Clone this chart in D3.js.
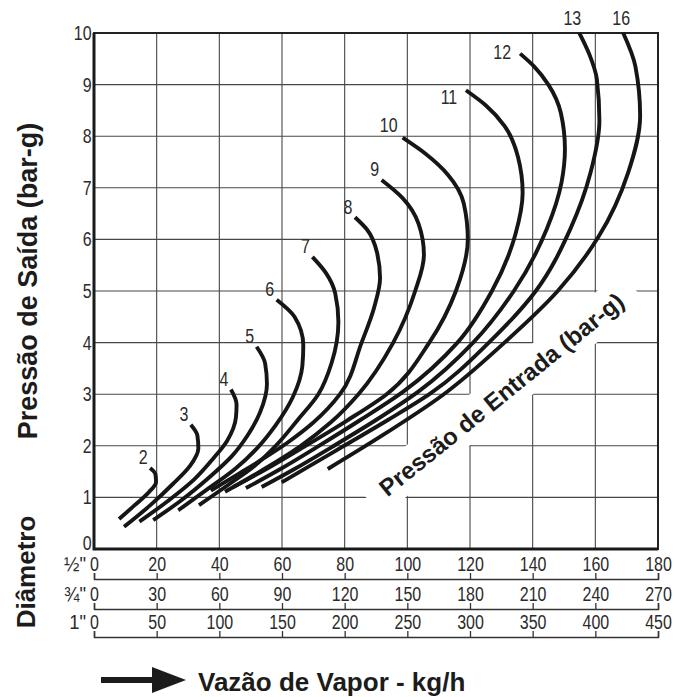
<!DOCTYPE html>
<html>
<head>
<meta charset="utf-8">
<script src="https://cdn.jsdelivr.net/npm/d3@7"></script>
<style>
  body { margin: 0; background: #fff; }
  svg { display: block; }
  .num, .tick text {
    font-family: "Liberation Sans", Arial, sans-serif;
    font-size: 20.5px;
    fill: #2b2b2b;
  }
  .title {
    font-family: "Liberation Sans", Arial, sans-serif;
    font-weight: bold;
    fill: #1c1c1c;
  }
</style>
</head>
<body>
<svg id="chart" width="674" height="697"></svg>
<script>
// Ticks
const yTicks = [0, 1, 2, 3, 4, 5, 6, 7, 8, 9, 10];
const halfInchTicks = [0, 20, 40, 60, 80, 100, 120, 140, 160, 180];
const threeQuarterTicks = [0, 30, 60, 90, 120, 150, 180, 210, 240, 270];
const oneInchTicks = [0, 50, 100, 150, 200, 250, 300, 350, 400, 450];
const pipeSizes = ['½"', '¾"', '1"'];

// Inlet pressure of each curve (bar-g)
const inletPressures = [2, 3, 4, 5, 6, 7, 8, 9, 10, 11, 12, 13, 16];

// [flow on the ½" scale (kg/h), outlet pressure (bar-g)]
const curve2 = [[8.0, 0.58], [13, 0.85], [17.5, 1.1], [19.8, 1.3], [19.6, 1.45], [17.9, 1.57]];
const curve3 = [[9.6, 0.43], [18, 0.85], [25, 1.25], [30.5, 1.6], [33.3, 1.95], [33, 2.2], [30.9, 2.41]];
const curve4 = [[14.5, 0.53], [24, 0.95], [32, 1.35], [38, 1.75], [42.5, 2.1], [45.3, 2.55], [45.5, 2.8], [43.7, 3.09]];
const curve5 = [[18.9, 0.56], [28, 0.95], [37, 1.4], [44, 1.8], [49, 2.2], [53, 2.65], [55.2, 3.2], [54.6, 3.6], [51.9, 3.92]];
const curve6 = [[26.9, 0.75], [36, 1.15], [45, 1.55], [52, 1.95], [58, 2.4], [63.5, 2.95], [66.5, 3.55], [66.8, 3.95], [64, 4.5], [58.3, 4.83]];
const curve7 = [[33.5, 0.85], [43, 1.25], [51, 1.6], [58, 2.0], [65, 2.5], [71.6, 3.0], [75.8, 3.6], [78, 4.4], [77, 4.95], [74, 5.35], [69.7, 5.66]];
const curve8 = [[37.3, 1.13], [46, 1.45], [54, 1.75], [61.5, 2.05], [70, 2.45], [78.5, 3.0], [85.4, 4.0], [89.5, 4.7], [91.3, 5.25], [90.3, 5.75], [87, 6.2], [83.3, 6.43]];
const curve9 = [[41.8, 1.11], [51, 1.43], [59, 1.72], [66, 2.0], [75.5, 2.45], [84.4, 3.0], [95.5, 4.0], [102.5, 5.0], [105.3, 5.7], [103.6, 6.3], [98.5, 6.8], [91.8, 7.15]];
const curve10 = [[44.5, 1.2], [55, 1.55], [67, 1.98], [80.5, 2.48], [93.4, 3.0], [107, 4.0], [115.5, 5.0], [119.3, 6.0], [118, 6.7], [113, 7.25], [106, 7.65], [98.5, 7.97]];
const curve11 = [[48.5, 1.18], [59.5, 1.55], [71, 1.97], [85, 2.5], [98.7, 3.05], [116, 4.0], [127, 5.0], [134.5, 6.1], [136.8, 6.9], [135.3, 7.6], [131, 8.2], [125, 8.6], [118.7, 8.89]];
const curve12 = [[53.5, 1.2], [64, 1.55], [76, 1.98], [90, 2.5], [103.5, 3.05], [121, 4.0], [134, 5.0], [144.5, 6.2], [149.2, 7.1], [150.3, 7.75], [149, 8.45], [145, 9.0], [140.5, 9.35], [136, 9.6]];
const curve13 = [[59.9, 1.29], [68.6, 1.6], [79.8, 2.0], [93.8, 2.5], [107.5, 3.02], [126, 4.0], [141, 5.0], [152, 6.2], [158.5, 7.3], [161.3, 8.3], [160.5, 9.1], [158, 9.6], [154.9, 10]];
const curve16 = [[74.6, 1.55], [92, 2.2], [111, 2.97], [131, 4.0], [148, 5.0], [161, 6.05], [170.5, 7.3], [174.3, 8.4], [172.8, 9.35], [168.9, 10]];

const curveSeries = [curve2, curve3, curve4, curve5, curve6, curve7, curve8,
    curve9, curve10, curve11, curve12, curve13, curve16]
    .map((points, i) => ({inlet: inletPressures[i], points: points}));

// the numbers in the original are set in a condensed face
const squeeze = "scale(0.78,1)";

let svg = d3.select("#chart");
let plot = {left: 94, right: 658, top: 33, bottom: 549};

let xScale = d3.scaleLinear().domain([0, 180]).range([plot.left, plot.right]);
let yScale = d3.scaleLinear().domain([0, 10]).range([plot.bottom, plot.top]);

// grid
let grid = svg.append("g").attr("stroke", "#474747").attr("stroke-width", 1.1);
grid.selectAll("line.v")
    .data(halfInchTicks.slice(1, -1))
    .join("line").attr("class", "v")
    .attr("x1", (d) => xScale(d)).attr("x2", (d) => xScale(d))
    .attr("y1", plot.top).attr("y2", plot.bottom);
grid.selectAll("line.h")
    .data(yTicks.slice(1, -1))
    .join("line").attr("class", "h")
    .attr("x1", plot.left).attr("x2", plot.right)
    .attr("y1", (d) => yScale(d)).attr("y2", (d) => yScale(d));

// inlet pressure label, with the grid erased behind it
let entrada = svg.append("g")
    .attr("transform", `translate(${xScale(130)},${yScale(3.0)}) rotate(-39)`);
entrada.append("rect")
    .attr("x", -170).attr("y", -20).attr("width", 340).attr("height", 40)
    .attr("fill", "#fff");
entrada.append("text")
    .attr("class", "title")
    .attr("text-anchor", "middle")
    .attr("dy", "0.36em")
    .attr("font-size", 24)
    .text("Pressão de Entrada (bar-g)");

// frame
svg.append("rect")
    .attr("x", plot.left).attr("y", plot.top)
    .attr("width", plot.right - plot.left).attr("height", plot.bottom - plot.top)
    .attr("fill", "none").attr("stroke", "#222").attr("stroke-width", 2);
svg.append("path")
    .attr("d", `M${plot.left},${plot.top}V${plot.bottom}H${plot.right}`)
    .attr("fill", "none").attr("stroke", "#1a1a1a").attr("stroke-width", 3);

// y axis labels
let yAxis = svg.append("g")
    .attr("transform", `translate(${plot.left},0)`)
    .call(d3.axisLeft(yScale).tickValues(yTicks).tickSize(0).tickPadding(3));
yAxis.select(".domain").remove();
yAxis.selectAll(".tick text").attr("transform", squeeze);
yAxis.selectAll(".tick text")
    .filter((d) => d === 0)
    .attr("dy", "0.02em");

// curves: pressure rises along every curve, so interpolate x as a function of y
let curveLine = d3.line()
    .x((d) => xScale(d[0]))
    .y((d) => yScale(d[1]))
    .curve(d3.curveMonotoneY);

svg.append("g").selectAll("path")
    .data(curveSeries)
    .join("path")
    .attr("d", (d) => curveLine(d.points))
    .attr("fill", "none")
    .attr("stroke", "#161616")
    .attr("stroke-width", 3.9);

// curve labels sit just above the top end of each curve
let labelNudge = {10: [-14, -13], 11: [-17, 6], 12: [-18, -2], 13: [-7, -15], 16: [-2, -15]};
let nudge = (d) => labelNudge[d.inlet] || [-7, -11];
let topEnd = (d) => d.points[d.points.length - 1];
svg.append("g").selectAll("g")
    .data(curveSeries)
    .join("g")
    .attr("transform", (d) => `translate(${xScale(topEnd(d)[0]) + nudge(d)[0]},${yScale(topEnd(d)[1]) + nudge(d)[1]})`)
    .append("text")
    .attr("class", "num")
    .attr("font-size", 19.5)
    .attr("text-anchor", "middle")
    .attr("dy", "0.36em")
    .attr("transform", squeeze)
    .text((d) => d.inlet);

// flow axes, one per pipe size
let pipeAxes = [
    {label: pipeSizes[0], ticks: halfInchTicks, y: 579},
    {label: pipeSizes[1], ticks: threeQuarterTicks, y: 609},
    {label: pipeSizes[2], ticks: oneInchTicks, y: 637}
];

for (let axis of pipeAxes) {
    let scale = d3.scaleLinear()
        .domain([0, d3.max(axis.ticks)])
        .range([plot.left, plot.right]);
    let g = svg.append("g")
        .attr("transform", `translate(0,${axis.y})`)
        .call(d3.axisTop(scale).tickValues(axis.ticks).tickSize(6).tickSizeOuter(6).tickPadding(2));
    g.select(".domain").attr("stroke", "#333").attr("stroke-width", 1.5);
    g.selectAll(".tick line").attr("stroke", "#333").attr("stroke-width", 1.3);
    g.selectAll(".tick text").attr("transform", squeeze);
    svg.append("g")
        .attr("transform", `translate(86,${axis.y - 8})`)
        .append("text")
        .attr("class", "num")
        .attr("text-anchor", "end")
        .attr("transform", "scale(0.9,1)")
        .text(axis.label);
}

// titles
svg.append("text")
    .attr("class", "title")
    .attr("font-size", 27)
    .attr("text-anchor", "middle")
    .attr("transform", "translate(37,281) rotate(-90)")
    .text("Pressão de Saída (bar-g)");

svg.append("text")
    .attr("class", "title")
    .attr("font-size", 26)
    .attr("text-anchor", "middle")
    .attr("transform", "translate(35,572) rotate(-90)")
    .text("Diâmetro");

svg.append("path")
    .attr("d", "M101,677H152V667L186,680L152,693V683H101Z")
    .attr("fill", "#1c1c1c");

svg.append("text")
    .attr("class", "title")
    .attr("font-size", 26)
    .attr("x", 198)
    .attr("y", 691)
    .text("Vazão de Vapor - kg/h");
</script>
</body>
</html>
